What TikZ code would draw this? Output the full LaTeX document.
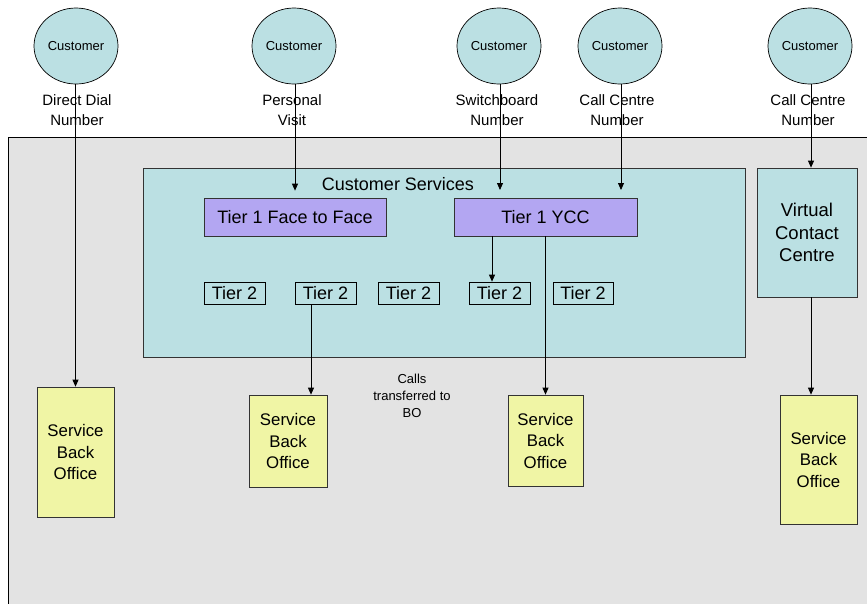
\documentclass[tikz,border=0pt]{standalone}
\usepackage{fontspec}
\setmainfont{Liberation Sans}
\usetikzlibrary{shapes.geometric,arrows.meta}
\definecolor{bggray}{HTML}{E3E3E3}
\definecolor{tealA}{HTML}{BBE0E3}
\definecolor{lavA}{HTML}{B3A6F2}
\definecolor{yelA}{HTML}{F0F5A5}
\begin{document}
\begin{tikzpicture}[x=1pt,y=-1pt,
  cust/.style={ellipse, draw=black, fill=tealA, minimum width=84pt, minimum height=76pt, inner sep=0pt, line width=0.7pt, font=\fontsize{13}{15}\selectfont},
  lbl/.style={align=center, inner sep=0pt, font=\fontsize{15}{20}\selectfont},
  tierone/.style={draw=black!80, fill=lavA, minimum height=38pt, inner sep=0pt, line width=0.7pt, font=\fontsize{18}{22}\selectfont},
  tiertwo/.style={draw=black, fill=tealA, minimum height=22pt, inner sep=0pt, line width=0.7pt, font=\fontsize{18}{22}\selectfont},
  sbo/.style={draw=black!80, fill=yelA, align=center, inner sep=0pt, line width=0.7pt, font=\fontsize{16.8}{21.5}\selectfont},
  arr/.style={-{Triangle[length=7pt,width=6pt]}, line width=0.8pt},
  ln/.style={line width=0.8pt}]
\useasboundingbox (0,0) rectangle (867,603);
% background area
\fill[bggray] (8,137) rectangle (872,608);
\draw[line width=0.7pt] (872,137) -- (8,137) -- (8,608);
% customer services container
\node[draw=black!80, fill=tealA, line width=0.7pt, minimum width=602pt, minimum height=189pt, inner sep=0pt] (cs) at (444,262.5) {};
\node[inner sep=0pt, font=\fontsize{18}{22}\selectfont] (cstitle) at (398,184) {Customer Services};
% customers
\node[cust] (c1) at (76,46) {Customer};
\node[cust] (c2) at (294,46) {Customer};
\node[cust] (c3) at (499,46) {Customer};
\node[cust] (c4) at (620,46) {Customer};
\node[cust] (c5) at (810,46) {Customer};
\node[lbl] (l1) at (77,110) {Direct Dial\\Number};
\node[lbl] (l2) at (292,110) {Personal\\Visit};
\node[lbl] (l3) at (497,110) {Switchboard\\Number};
\node[lbl] (l4) at (617,110) {Call Centre\\Number};
\node[lbl] (l5) at (808,110) {Call Centre\\Number};
% tier 1
\node[tierone, minimum width=182pt] (f2f) at (295,217) {Tier 1 Face to Face};
\node[tierone, minimum width=183pt] (ycc) at (545.5,217) {Tier 1 YCC};
% tier 2
\node[tiertwo, minimum width=61pt] (t2a) at (234.5,293) {Tier 2};
\node[tiertwo, minimum width=61pt] (t2b) at (325.5,293) {Tier 2};
\node[tiertwo, minimum width=61pt] (t2c) at (408.5,293) {Tier 2};
\node[tiertwo, minimum width=61pt] (t2d) at (499.5,293) {Tier 2};
\node[tiertwo, minimum width=60pt] (t2e) at (583,293) {Tier 2};
% virtual contact centre
\node[draw=black!80, fill=tealA, align=center, line width=0.7pt, inner sep=0pt, minimum width=100pt, minimum height=129pt, font=\fontsize{18.5}{22.5}\selectfont] (vcc) at (807,232.5) {Virtual\\Contact\\Centre};
% service back offices
\node[sbo, minimum width=77pt, minimum height=130pt] (sbo1) at (75.5,452) {Service\\Back\\Office};
\node[sbo, minimum width=78pt, minimum height=92pt] (sbo2) at (288,441) {Service\\Back\\Office};
\node[sbo, minimum width=75pt, minimum height=91pt] (sbo3) at (545.5,440.5) {Service\\Back\\Office};
\node[sbo, minimum width=77pt, minimum height=129pt] (sbo4) at (818.5,459.5) {Service\\Back\\Office};
\node[align=center, inner sep=0pt, font=\fontsize{13}{17}\selectfont] (calls) at (412,396) {Calls\\transferred to\\BO};
% connector end points
\coordinate (e2) at ([yshift=7pt]f2f.north);
\coordinate (e3) at (500,190);
\coordinate (e4) at (621,190);
\coordinate (s5) at (811,84);
\coordinate (yd) at (492,236);
\coordinate (bx) at (311,304);
\coordinate (vx) at (811,297);
% connectors
\draw[arr] (c1.south -| sbo1.north) -- (sbo1.north);
\draw[arr] (c2.south -| e2) -- (e2);
\draw[arr] (c3.south -| e3) -- (e3);
\draw[arr] (c4.south -| e4) -- (e4);
\draw[arr] (s5) -- (s5 |- vcc.north);
\draw[arr] (yd) -- (yd |- t2d.north);
\draw[arr] (bx) -- (bx |- sbo2.north);
\draw[arr] (ycc.south) -- (sbo3.north);
\draw[arr] (vx) -- (vx |- sbo4.north);
\end{tikzpicture}
\end{document}
